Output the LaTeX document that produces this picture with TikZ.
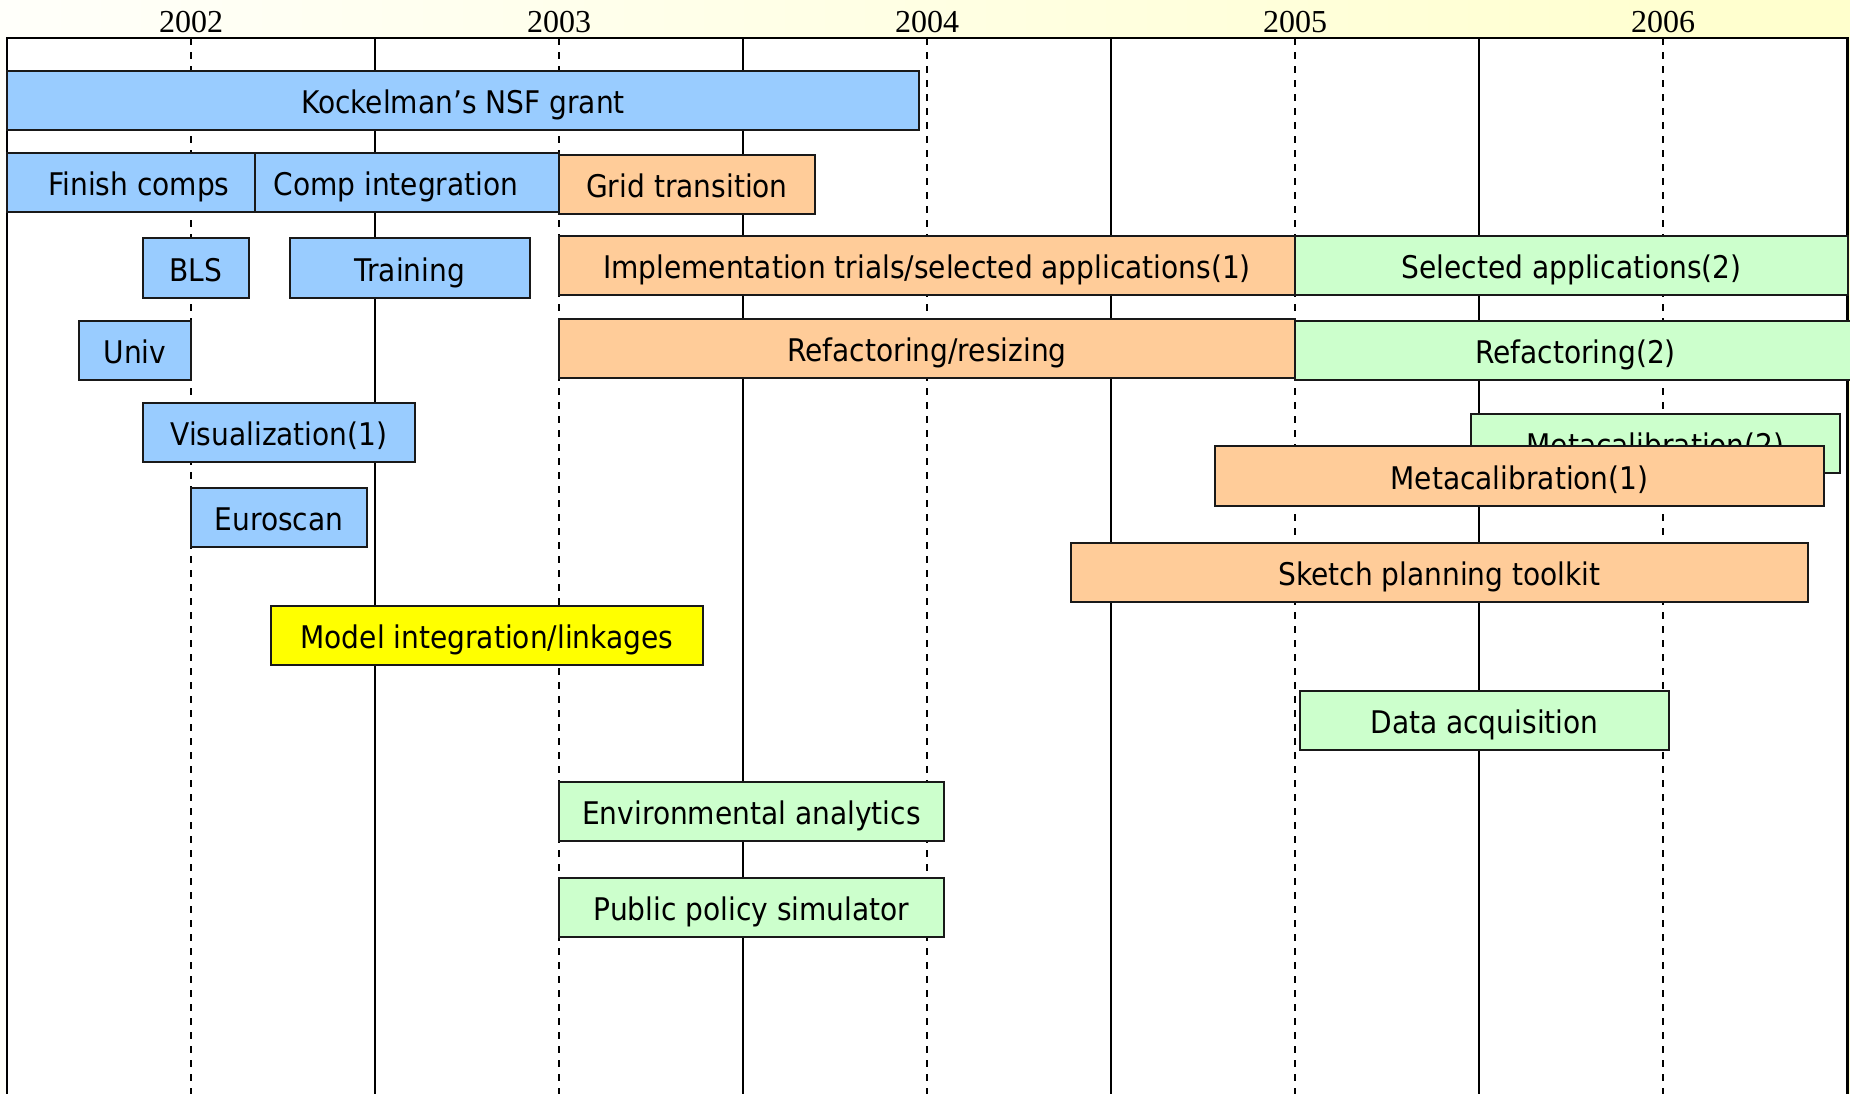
\documentclass[tikz,border=0pt]{standalone}
\usepackage{fontspec}
\setmainfont{Liberation Serif}
\newfontfamily\boxfont{DejaVu Sans Condensed}
\definecolor{cblue}{HTML}{99CCFF}
\definecolor{corange}{HTML}{FFCC99}
\definecolor{cgreen}{HTML}{CCFFCC}
\definecolor{cyellow}{HTML}{FFFF00}
\definecolor{bgA}{HTML}{FFFFFA}
\definecolor{bgB}{HTML}{FFFFCC}
\newcommand\gbar[7]{\node[box,fill=#2,minimum width={(#4-#3)*0.5pt},minimum height={(#6-#5)*0.5pt}] (#1) at ({(#3+#4)/2},{(#5+#6)/2}) {#7};}
\begin{document}
\begin{tikzpicture}[x=0.5pt,y=-0.5pt,
  box/.style={draw=black!90, line width=1.2pt, inner sep=0pt, anchor=center,
    text height=13pt, text depth=0pt,
    font=\boxfont\fontsize{15.6pt}{18pt}\selectfont},
  yearlbl/.style={anchor=base, inner sep=0pt, font=\fontsize{16pt}{18pt}\selectfont},
  yearline/.style={line width=1pt, dash pattern=on 3.5pt off 3.5pt},
  halfline/.style={line width=1.1pt},
  frameline/.style={line width=1.4pt}]
\useasboundingbox (0,0) rectangle (1850,1093);
\shade[left color=bgA, right color=bgB] (0,0) rectangle (1850,1093);
\fill[white] (7,38) rectangle (1848,1100);
% grid lines
\foreach \i/\yr in {0/2002,1/2003,2/2004,3/2005,4/2006}{
  \draw[yearline] ({191+368*\i},38) -- ({191+368*\i},1100);
  \draw[halfline] ({375+368*\i},38) -- ({375+368*\i},1100);
  \node[yearlbl] (y\yr) at ({191+368*\i},32) {\yr};
}
\draw[frameline] (7,1100) -- (7,38) -- (1848,38) -- (1848,1100);
% bars
\gbar{kock}{cblue}{7}{919}{71}{130}{Kockelman’s NSF grant}
\gbar{finish}{cblue}{7}{255}{153}{212}{\hspace*{8pt}Finish comps}
\gbar{compint}{cblue}{255}{559}{153}{212}{Comp integration\hspace*{11pt}}
\gbar{grid}{corange}{559}{815}{155}{214}{Grid transition}
\gbar{bls}{cblue}{143}{249}{238}{298}{BLS}
\gbar{training}{cblue}{290}{530}{238}{298}{Training}
\gbar{impl}{corange}{559}{1295}{236}{295}{Implementation trials/selected applications(1)}
\gbar{selapp}{cgreen}{1295}{1848}{236}{295}{Selected applications(2)}
\gbar{univ}{cblue}{79}{191}{321}{380}{Univ}
\gbar{refac}{corange}{559}{1295}{319}{378}{Refactoring/resizing}
\gbar{refactwo}{cgreen}{1295}{1856}{321}{380}{Refactoring(2)}
\gbar{vis}{cblue}{143}{415}{403}{462}{Visualization(1)}
\gbar{metatwo}{cgreen}{1471}{1840}{414}{473}{Metacalibration(2)}
\gbar{metaone}{corange}{1215}{1824}{446}{506}{Metacalibration(1)}
\gbar{euro}{cblue}{191}{367}{488}{547}{Euroscan}
\gbar{sketch}{corange}{1071}{1808}{543}{602}{Sketch planning toolkit}
\gbar{model}{cyellow}{271}{703}{606}{665}{Model integration/linkages}
\gbar{data}{cgreen}{1300}{1669}{691}{750}{Data acquisition}
\gbar{env}{cgreen}{559}{944}{782}{841}{Environmental analytics}
\gbar{policy}{cgreen}{559}{944}{878}{937}{Public policy simulator}
\end{tikzpicture}
\end{document}
